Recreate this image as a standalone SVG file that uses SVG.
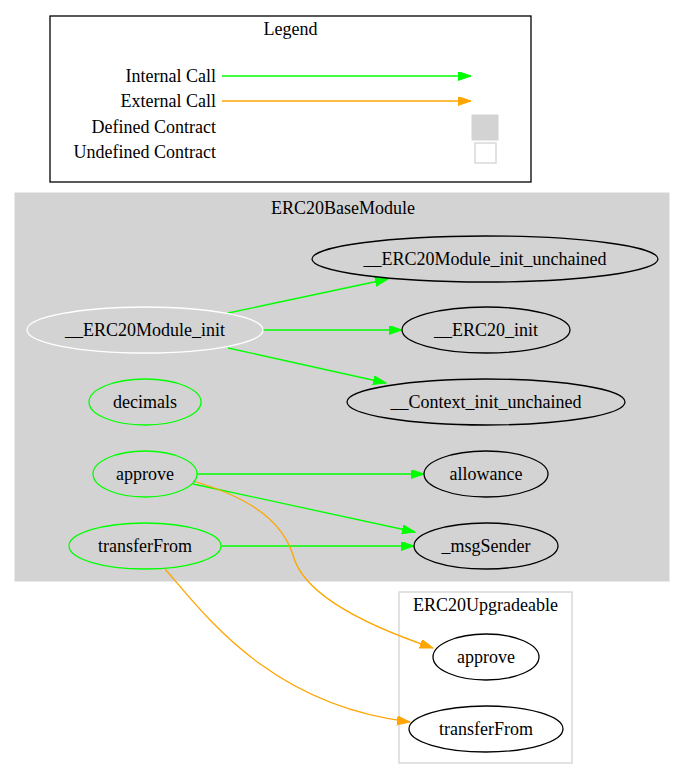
<svg xmlns="http://www.w3.org/2000/svg" width="685" height="780" viewBox="0 0 685 780" font-family="'Liberation Serif', 'Times New Roman', serif">
  <style>
    text { font-family: "Liberation Serif", "Times New Roman", serif; font-size: 18px; fill: #000; }
    .mid { text-anchor: middle; }
    .end { text-anchor: end; }
    .node { fill: none; stroke: #000; stroke-width: 1.3; }
    .internal { fill: none; stroke: #00ff00; stroke-width: 1.3; }
    .external { fill: none; stroke: #ffa500; stroke-width: 1.3; }
  </style>
  <defs>
    <marker id="arrowGreen" markerUnits="userSpaceOnUse" markerWidth="14" markerHeight="10" refX="13" refY="4.5" orient="auto">
      <path d="M0,0 L13,4.5 L0,9 Z" fill="#00ff00" stroke="#00ff00" stroke-width="1"/>
    </marker>
    <marker id="arrowOrange" markerUnits="userSpaceOnUse" markerWidth="14" markerHeight="10" refX="13" refY="4.5" orient="auto">
      <path d="M0,0 L13,4.5 L0,9 Z" fill="#ffa500" stroke="#ffa500" stroke-width="1"/>
    </marker>
  </defs>
  <rect width="685" height="780" fill="#fff"/>

  <!-- Legend -->
  <g id="legend">
    <rect x="50" y="16" width="481" height="166" fill="none" stroke="#000" stroke-width="1.3"/>
    <text class="mid" x="290.5" y="35">Legend</text>
    <text class="end" x="216" y="82">Internal Call</text>
    <text class="end" x="216" y="107">External Call</text>
    <text class="end" x="216" y="133">Defined Contract</text>
    <text class="end" x="216" y="158">Undefined Contract</text>
    <path class="internal" d="M222,76 L471,76" marker-end="url(#arrowGreen)"/>
    <path class="external" d="M222,101 L471,101" marker-end="url(#arrowOrange)"/>
    <rect x="472" y="115" width="26" height="25" fill="#d3d3d3" stroke="#d3d3d3"/>
    <rect x="475" y="143" width="21" height="20" fill="#fff" stroke="#d3d3d3" stroke-width="1.3"/>
  </g>

  <!-- Cluster: ERC20BaseModule -->
  <g id="cluster_ERC20BaseModule">
    <rect x="15" y="193" width="654" height="388" fill="#d3d3d3" stroke="#d3d3d3"/>
    <text class="mid" x="343" y="214">ERC20BaseModule</text>
  </g>

  <!-- Cluster: ERC20Upgradeable -->
  <g id="cluster_ERC20Upgradeable">
    <rect x="399" y="592" width="173" height="171" fill="none" stroke="#d3d3d3" stroke-width="1.3"/>
    <text class="mid" x="485.5" y="611">ERC20Upgradeable</text>
  </g>

  <!-- Connectors -->
  <g id="edges">
    <path class="internal" d="M228,313 L388,279" marker-end="url(#arrowGreen)"/>
    <path class="internal" d="M263,330 L402,330" marker-end="url(#arrowGreen)"/>
    <path class="internal" d="M228,348 L386,383" marker-end="url(#arrowGreen)"/>
    <path class="internal" d="M197,474 L424,474" marker-end="url(#arrowGreen)"/>
    <path class="internal" d="M193,484 L415,532" marker-end="url(#arrowGreen)"/>
    <path class="internal" d="M221,546 L414,546" marker-end="url(#arrowGreen)"/>
    <path class="external" d="M193,481 C240,495 280,515 293,555 C303,595 365,625 433,648" marker-end="url(#arrowOrange)"/>
    <path class="external" d="M165,569 C205,615 270,705 410,722" marker-end="url(#arrowOrange)"/>
  </g>

  <!-- Nodes -->
  <g id="node_ERC20Module_init">
    <ellipse cx="145" cy="330" rx="118" ry="23" fill="none" stroke="#fff" stroke-width="1.3"/>
    <text class="mid" x="145" y="336">__ERC20Module_init</text>
  </g>
  <g id="node_ERC20Module_init_unchained">
    <ellipse class="node" cx="485" cy="259" rx="173" ry="23"/>
    <text class="mid" x="485" y="265">__ERC20Module_init_unchained</text>
  </g>
  <g id="node_ERC20_init">
    <ellipse class="node" cx="486" cy="330" rx="84" ry="23"/>
    <text class="mid" x="486" y="336">__ERC20_init</text>
  </g>
  <g id="node_Context_init_unchained">
    <ellipse class="node" cx="486" cy="402" rx="139" ry="23"/>
    <text class="mid" x="486" y="408">__Context_init_unchained</text>
  </g>
  <g id="node_decimals">
    <ellipse class="internal" cx="145" cy="402" rx="56" ry="23"/>
    <text class="mid" x="145" y="408">decimals</text>
  </g>
  <g id="node_approve">
    <ellipse class="internal" cx="145" cy="474" rx="52" ry="23"/>
    <text class="mid" x="145" y="480">approve</text>
  </g>
  <g id="node_allowance">
    <ellipse class="node" cx="486" cy="474" rx="62" ry="23"/>
    <text class="mid" x="486" y="480">allowance</text>
  </g>
  <g id="node_transferFrom">
    <ellipse class="internal" cx="145" cy="546" rx="76" ry="23"/>
    <text class="mid" x="145" y="552">transferFrom</text>
  </g>
  <g id="node_msgSender">
    <ellipse class="node" cx="486" cy="546" rx="72" ry="23"/>
    <text class="mid" x="486" y="552">_msgSender</text>
  </g>
  <g id="node_ext_approve">
    <ellipse class="node" cx="486" cy="657" rx="53" ry="23"/>
    <text class="mid" x="486" y="663">approve</text>
  </g>
  <g id="node_ext_transferFrom">
    <ellipse class="node" cx="486" cy="729" rx="77" ry="23"/>
    <text class="mid" x="486" y="735">transferFrom</text>
  </g>
</svg>
